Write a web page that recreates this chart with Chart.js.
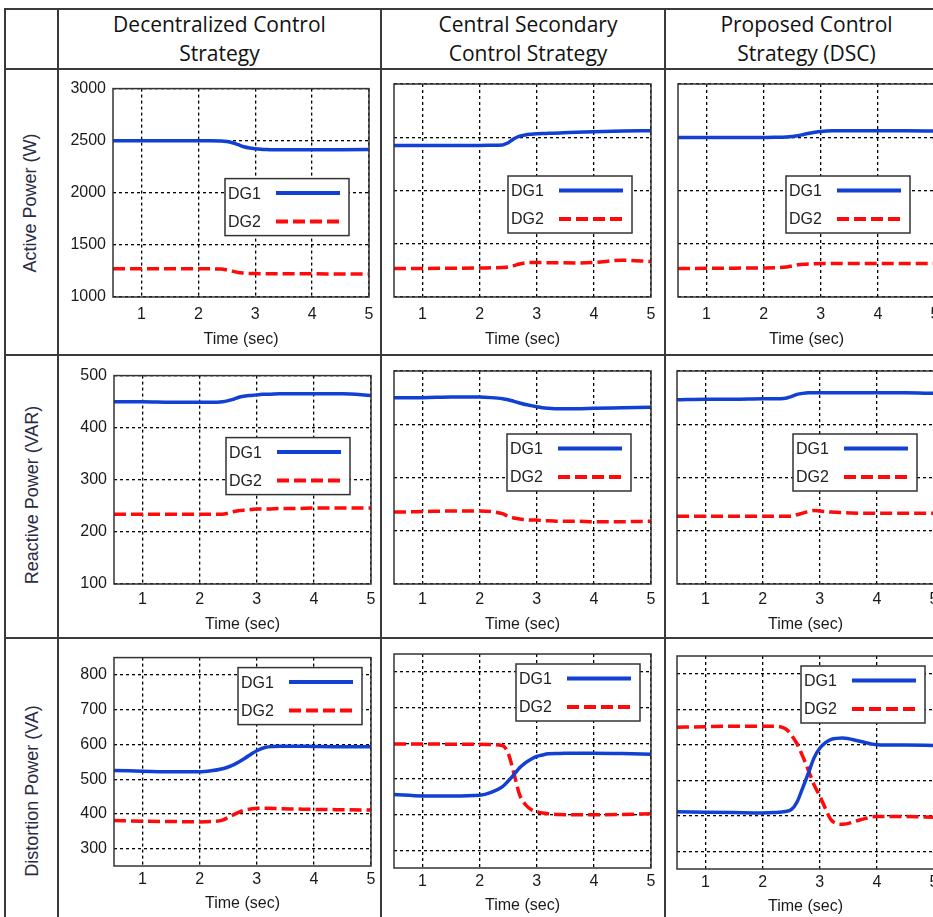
<!DOCTYPE html>
<html lang="en">
<head>
<meta charset="UTF-8">
<title>DG power comparison</title>
<script src="https://cdn.jsdelivr.net/npm/chart.js"></script>
<style>
  html, body { margin: 0; padding: 0; background: #fff; }
  body { width: 933px; height: 917px; overflow: hidden; position: relative; font-family: "Liberation Sans", Arial, sans-serif; }
  .hline, .vline { position: absolute; background: #3a3a3a; }
  .hline { height: 2px; }
  .vline { width: 2px; }
  .head { position: absolute; display: flex; align-items: center; justify-content: center; text-align: center;
          font-family: "Open Sans", Lato, sans-serif; font-size: 21px; line-height: 29px; color: #111; }
  .rowlab { position: absolute; white-space: nowrap; font-size: 18px; color: #2a2a44;
            transform: translate(-50%, -50%) rotate(-90deg); }
  canvas { position: absolute; }
</style>
</head>
<body>
<!-- table grid -->
<div class="hline" style="left:4px; top:8px; width:960px"></div>
<div class="hline" style="left:4px; top:68px; width:960px"></div>
<div class="hline" style="left:4px; top:354px; width:960px"></div>
<div class="hline" style="left:4px; top:637px; width:960px"></div>
<div class="vline" style="left:4px; top:8px; height:920px"></div>
<div class="vline" style="left:57px; top:8px; height:920px"></div>
<div class="vline" style="left:380px; top:8px; height:920px"></div>
<div class="vline" style="left:664px; top:8px; height:920px"></div>

<div class="head" style="left:58px; top:9px; width:323px; height:60px">Decentralized Control<br>Strategy</div>
<div class="head" style="left:386px; top:9px; width:284px; height:60px">Central Secondary<br>Control Strategy</div>
<div class="head" style="left:665px; top:9px; width:283px; height:60px">Proposed Control<br>Strategy (DSC)</div>

<div class="rowlab" style="left:30px; top:203px">Active Power (W)</div>
<div class="rowlab" style="left:32px; top:495px">Reactive Power (VAR)</div>
<div class="rowlab" style="left:32px; top:791px">Distortion Power (VA)</div>

<script>
  // time samples shared by every curve (sec)
  const timeSec = [0.5, 1.0, 1.5, 2.0, 2.2, 2.4, 2.5, 2.6, 2.7, 2.8, 2.9, 3.0, 3.1, 3.2, 3.4, 3.7, 4.0, 4.5, 5.0];

  // Active power (W)
  const activeDecDG1 = [2500, 2500, 2500, 2500, 2500, 2498, 2492, 2480, 2462, 2442, 2430, 2423, 2418, 2415, 2412, 2412, 2413, 2414, 2415];
  const activeDecDG2 = [1270, 1270, 1270, 1270, 1270, 1268, 1260, 1248, 1236, 1230, 1226, 1225, 1224, 1223, 1222, 1222, 1222, 1221, 1220];
  const activeCenDG1 = [2423, 2423, 2423, 2423, 2424, 2428, 2448, 2485, 2510, 2522, 2528, 2532, 2535, 2537, 2541, 2546, 2552, 2558, 2562];
  const activeCenDG2 = [1268, 1268, 1270, 1272, 1274, 1276, 1282, 1295, 1310, 1320, 1324, 1324, 1323, 1322, 1321, 1320, 1325, 1345, 1333];
  const activeDscDG1 = [2497, 2497, 2497, 2498, 2499, 2502, 2506, 2515, 2526, 2537, 2546, 2553, 2558, 2560, 2561, 2562, 2562, 2561, 2559];
  const activeDscDG2 = [1268, 1269, 1271, 1273, 1275, 1282, 1292, 1302, 1308, 1311, 1313, 1314, 1314, 1314, 1314, 1314, 1314, 1314, 1314];

  // Reactive power (VAR)
  const reactiveDecDG1 = [450, 450, 449, 449, 449, 450, 452, 455, 459, 461, 462, 463, 464, 464, 465, 465, 465, 465, 462];
  const reactiveDecDG2 = [234, 234, 234, 234, 234, 234, 236, 239, 241, 242, 243, 244, 244, 244, 245, 245, 246, 246, 246];
  const reactiveCenDG1 = [450, 450, 451, 451, 450, 448, 446, 443, 440, 437, 435, 433, 431, 430, 429, 429, 430, 431, 432];
  const reactiveCenDG2 = [235, 236, 237, 237, 236, 232, 227, 224, 222, 221, 220, 220, 219, 219, 218, 218, 217, 217, 218];
  const reactiveDscDG1 = [446, 447, 447, 448, 448, 449, 452, 456, 458, 459, 459, 459, 459, 459, 459, 459, 459, 459, 458];
  const reactiveDscDG2 = [227, 227, 227, 227, 227, 227, 227, 230, 233, 236, 238, 237, 236, 235, 234, 233, 233, 233, 233];

  // Distortion power (VA)
  const distortionDecDG1 = [525, 523, 521, 521, 524, 530, 535, 542, 551, 561, 572, 582, 589, 593, 595, 595, 594, 593, 593];
  const distortionDecDG2 = [381, 379, 378, 377, 378, 382, 390, 398, 406, 411, 414, 416, 416, 416, 415, 414, 413, 412, 411];
  const distortionCenDG1 = [456, 452, 452, 454, 462, 478, 494, 512, 531, 545, 555, 563, 567, 570, 571, 572, 572, 571, 569];
  const distortionCenDG2 = [598, 598, 597, 597, 596, 593, 572, 515, 455, 428, 414, 408, 404, 402, 400, 399, 399, 400, 402];
  const distortionDscDG1 = [411, 410, 409, 408, 409, 412, 417, 438, 478, 520, 563, 590, 606, 615, 619, 610, 600, 599, 598];
  const distortionDscDG2 = [649, 651, 652, 652, 652, 645, 628, 603, 568, 528, 487, 456, 420, 388, 376, 388, 398, 398, 396];

  // tick labels
  const timeTicks = [1, 2, 3, 4, 5];
  const activeTicks = [1000, 1500, 2000, 2500, 3000];
  const reactiveTicks = [100, 200, 300, 400, 500];
  const distortionTicks = [300, 400, 500, 600, 700, 800];
  const seriesLabels = ['DG1', 'DG2'];

  const rows = [
    { ticks: activeTicks, min: 1000, max: 3000,
      series: [[activeDecDG1, activeDecDG2], [activeCenDG1, activeCenDG2], [activeDscDG1, activeDscDG2]] },
    { ticks: reactiveTicks, min: 100, max: 500,
      series: [[reactiveDecDG1, reactiveDecDG2], [reactiveCenDG1, reactiveCenDG2], [reactiveDscDG1, reactiveDscDG2]] },
    { ticks: distortionTicks, min: 250, max: 850,
      series: [[distortionDecDG1, distortionDecDG2], [distortionCenDG1, distortionCenDG2], [distortionDscDG1, distortionDscDG2]] }
  ];

  // layout: plot area [left, top, width, height] and legend offset from the plot corner
  const plotBoxes = [
    [[113, 84, 256, 213], [394, 84, 257, 213], [678, 84, 257, 213]],
    [[114, 371, 257, 213], [394, 371, 257, 213], [677, 371, 257, 213]],
    [[114, 653, 257, 213], [394, 654, 257, 214], [677, 656, 257, 213]]
  ];
  const legendOffsets = [
    [[112, 90], [114, 92], [108, 92]],
    [[112, 62], [113, 63], [116, 63]],
    [[124, 10], [122, 10], [124, 10]]
  ];
  const rowAxis = [ // [bottom space, tick padding]
    [58, 8], [56, 6], [53, 4]
  ];

  const BLUE = '#1240d2';
  const RED = '#ff0a0a';
  const FONT = '"Liberation Sans", Arial, sans-serif';

  // plot frame + in-plot legend box
  const framePlugin = {
    id: 'frameBox',
    afterDatasetsDraw(chart) {
      const a = chart.chartArea, ctx = chart.ctx;
      ctx.save();
      ctx.strokeStyle = '#333';
      ctx.lineWidth = 1.5;
      ctx.strokeRect(a.left, a.top, a.right - a.left, a.bottom - a.top);
      ctx.restore();
    },
    afterDraw(chart, args, opts) {
      const a = chart.chartArea, ctx = chart.ctx;
      const x = a.left + opts.dx, y = a.top + opts.dy;
      ctx.save();
      ctx.fillStyle = '#fff';
      ctx.fillRect(x, y, 124, 57);
      ctx.strokeStyle = '#333';
      ctx.lineWidth = 1.5;
      ctx.strokeRect(x, y, 124, 57);
      chart.data.datasets.forEach((ds, i) => {
        const yy = y + 14.5 + i * 28.5;
        ctx.fillStyle = '#222';
        ctx.font = '16px ' + FONT;
        ctx.textBaseline = 'middle';
        ctx.textAlign = 'left';
        ctx.fillText(ds.label, x + 3, yy + 1);
        ctx.strokeStyle = ds.borderColor;
        ctx.lineWidth = 4;
        ctx.setLineDash(ds.borderDash || []);
        ctx.beginPath();
        ctx.moveTo(x + 51, yy);
        ctx.lineTo(x + 115, yy);
        ctx.stroke();
        ctx.setLineDash([]);
      });
      ctx.restore();
    }
  };

  function makeChart(r, c) {
    const row = rows[r];
    const [left, top, w, h] = plotBoxes[r][c];
    const [padB, tickPad] = rowAxis[r];
    const padL = 70, padT = 12, padR = 14;
    const cv = document.createElement('canvas');
    const cw = w + padL + padR, ch = h + padT + padB;
    cv.width = cw; cv.height = ch;
    cv.style.left = (left - padL) + 'px';
    cv.style.top = (top - padT) + 'px';
    cv.style.width = cw + 'px';
    cv.style.height = ch + 'px';
    document.body.appendChild(cv);

    const [dg1, dg2] = row.series[c];
    new Chart(cv, {
      type: 'line',
      data: {
        datasets: [
          { label: seriesLabels[0], data: timeSec.map((t, i) => ({ x: t, y: dg1[i] })),
            borderColor: BLUE, borderWidth: 3.5, pointRadius: 0, cubicInterpolationMode: 'monotone' },
          { label: seriesLabels[1], data: timeSec.map((t, i) => ({ x: t, y: dg2[i] })),
            borderColor: RED, borderWidth: 3.5, borderDash: [12, 5], pointRadius: 0, cubicInterpolationMode: 'monotone' }
        ]
      },
      options: {
        responsive: false,
        animation: false,
        layout: { padding: { left: 0, top: padT, right: padR, bottom: 0 }, autoPadding: false },
        plugins: {
          legend: { display: false },
          tooltip: { enabled: false },
          frameBox: { dx: legendOffsets[r][c][0], dy: legendOffsets[r][c][1] }
        },
        scales: {
          x: {
            type: 'linear', min: 0.5, max: 5,
            afterBuildTicks: (axis) => { axis.ticks = timeTicks.map(v => ({ value: v })); },
            afterFit: (s) => { s.height = padB; },
            grid: { color: '#000', lineWidth: 1.3, drawTicks: false },
            border: { display: false, dash: [3, 3] },
            ticks: { padding: tickPad, color: '#1a1a1a', font: { size: 16, family: FONT }, maxRotation: 0,
                     callback: (v) => String(v) },
            title: { display: true, text: 'Time (sec)', color: '#1a1a1a', font: { size: 16, family: FONT },
                     padding: { top: 0, bottom: 6 } }
          },
          y: {
            type: 'linear', min: row.min, max: row.max,
            afterBuildTicks: (axis) => { axis.ticks = row.ticks.map(v => ({ value: v })); },
            afterFit: (s) => { s.width = padL; },
            grid: { color: '#000', lineWidth: 1.3, drawTicks: false },
            border: { display: false, dash: [3, 3] },
            ticks: { display: c === 0, padding: 7, color: '#1a1a1a', font: { size: 16, family: FONT },
                     callback: (v) => String(v) }
          }
        }
      },
      plugins: [framePlugin]
    });
  }

  for (let r = 0; r < 3; r++) {
    for (let c = 0; c < 3; c++) {
      makeChart(r, c);
    }
  }
</script>
</body>
</html>
